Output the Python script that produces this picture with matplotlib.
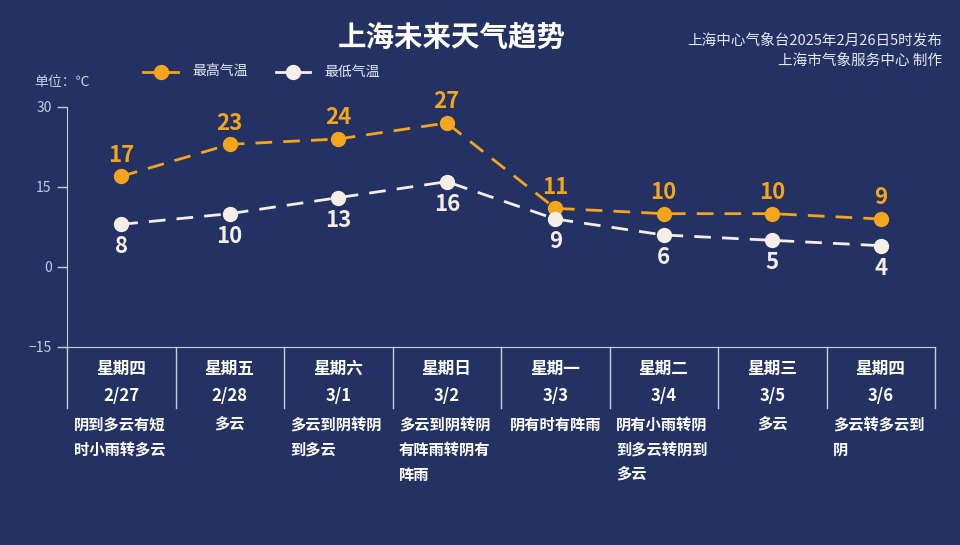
import matplotlib
matplotlib.use("Agg")
import matplotlib.pyplot as plt
import numpy as np

plt.rcParams['font.family'] = ['Noto Sans CJK SC', 'DejaVu Sans']

# data
weekdays = ['星期四', '星期五', '星期六', '星期日', '星期一', '星期二', '星期三', '星期四']
dates = ['2/27', '2/28', '3/1', '3/2', '3/3', '3/4', '3/5', '3/6']
weather = ['阴到多云有短\n时小雨转多云', '多云', '多云到阴转阴\n到多云', '多云到阴转阴\n有阵雨转阴有\n阵雨',
           '阴有时有阵雨', '阴有小雨转阴\n到多云转阴到\n多云', '多云', '多云转多云到\n阴']
t_max = [17, 23, 24, 27, 11, 10, 10, 9]
t_min = [8, 10, 13, 16, 9, 6, 5, 4]
yticks = [-15, 0, 15, 30]

bg = '#233263'
orange = '#f4a51c'
white = '#f3eee6'
grey = '#c9cdd8'

fig = plt.figure(figsize=(9.6, 5.45), dpi=100, facecolor=bg)
ax = fig.add_axes([67/960, 1-347/545, (935-67)/960, 240/545])
ax.set_facecolor(bg)

x = np.arange(len(t_max)) + 0.5
ax.plot(x, t_max, color=orange, lw=2, dashes=(6, 4), marker='o', ms=10,
        mfc=orange, mec=orange, clip_on=False, zorder=3)
ax.plot(x, t_min, color=white, lw=2, dashes=(6, 4), marker='o', ms=10,
        mfc=white, mec=white, clip_on=False, zorder=3)
for xi, v in zip(x, t_max):
    ax.annotate(str(v), (xi, v), xytext=(0, 7), textcoords='offset points',
                ha='center', va='bottom', color=orange, fontsize=16, fontweight='bold')
for xi, v in zip(x, t_min):
    ax.annotate(str(v), (xi, v), xytext=(0, -8), textcoords='offset points',
                ha='center', va='top', color=white, fontsize=16, fontweight='bold')

ax.set_xlim(0, len(t_max))
ax.set_ylim(-15, 30)
ax.set_yticks(yticks)
ax.set_xticks([])
ax.tick_params(axis='y', colors=grey, length=7, width=1, labelsize=10, pad=4)
for s in ['top', 'right']:
    ax.spines[s].set_visible(False)
ax.spines['left'].set_color(grey)
ax.spines['bottom'].set_color(grey)
ax.spines['left'].set_bounds(-15, 30)

# table under the axis
trans = ax.get_xaxis_transform()
for i in range(len(t_max) + 1):
    ax.plot([i, i], [0, -0.254], transform=trans, color=grey, lw=1, clip_on=False)
for i in range(len(t_max)):
    ax.text(i + 0.5, -0.092, weekdays[i], transform=trans, ha='center', va='center',
            color='white', fontsize=12, fontweight='bold')
    ax.text(i + 0.5, -0.206, dates[i], transform=trans, ha='center', va='center',
            color='white', fontsize=12, fontweight='bold')
    lines = weather[i].split('\n')
    for j, ln in enumerate(lines):
        if len(lines) == 1:
            ax.text(i + 0.5, -0.325 - j * 0.104, ln, transform=trans, ha='center', va='center',
                    color='white', fontsize=11, fontweight='bold')
        else:
            ax.text(i + 0.06, -0.325 - j * 0.104, ln, transform=trans, ha='left', va='center',
                    color='white', fontsize=11, fontweight='bold')

# titles and notes
fig.text(452/960, 1-38/545, '上海未来天气趋势', ha='center', va='center', color='white',
         fontsize=20.5, fontweight='bold')
fig.text(942/960, 1-40/545, '上海中心气象台2025年2月26日5时发布', ha='right', va='center',
         color='#e6e8ef', fontsize=10.5)
fig.text(942/960, 1-61/545, '上海市气象服务中心 制作', ha='right', va='center',
         color='#e6e8ef', fontsize=10.5)
fig.text(34/960, 1-82/545, '单位：℃', ha='left', va='center', color=grey, fontsize=10)

# legend
for x0, x1, c, label in [(143, 178, orange, '最高气温'), (276, 310, white, '最低气温')]:
    fig.add_artist(plt.Line2D([x0/960, x1/960], [1-72/545, 1-72/545], color=c, lw=2,
                              transform=fig.transFigure))
    fig.add_artist(plt.Line2D([(x0 + x1)/2/960], [1-72/545], color=c, marker='o', ms=10, lw=0,
                              transform=fig.transFigure))
    fig.text((x1 + 14)/960, 1-72/545, label, ha='left', va='center', color='#e6e8ef', fontsize=10)

fig.savefig('out.png', dpi=100, facecolor=bg)
